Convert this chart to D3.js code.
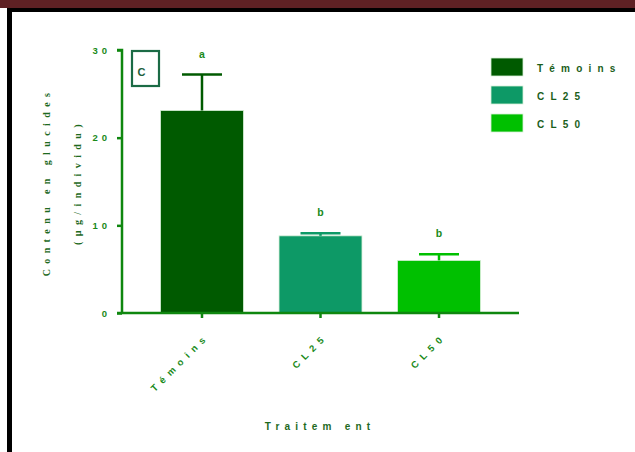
<!DOCTYPE html>
<html>
<head>
<meta charset="utf-8">
<script src="https://cdn.jsdelivr.net/npm/d3@7"></script>
<style>
  html, body { margin: 0; padding: 0; background: #fff; }
  svg { display: block; }
</style>
</head>
<body>
<svg id="chart" width="635" height="452"></svg>
<script>
// Treatment groups and measured carbohydrate content (µg / individual)
const categories = ["Témoins", "CL25", "CL50"];
const means = [23.1, 8.8, 6.0];
const errors = [4.1, 0.3, 0.7];
const letters = ["a", "b", "b"];
const yTicks = [0, 10, 20, 30];
const barColors = ["#005a00", "#0d9966", "#00c000"];

const svg = d3.select("#chart");
const W = 635, H = 452;

// page frame: dark band on top, black border lines
svg.append("rect").attr("x", 0).attr("y", 0).attr("width", W).attr("height", 8).attr("fill", "#5e2124");
svg.append("rect").attr("x", 7).attr("y", 8).attr("width", W - 7).attr("height", 4).attr("fill", "#000");
svg.append("rect").attr("x", 7).attr("y", 8).attr("width", 5).attr("height", H - 8).attr("fill", "#000");

const axisColor = "#0f870f";
const sans = "Liberation Sans, Arial, sans-serif";
const serif = "Liberation Serif, Times New Roman, serif";
const x = d3.scaleBand().domain(categories).range([122, 519]).paddingInner(0.3).paddingOuter(0.325);
const y = d3.scaleLinear().domain([0, 30]).range([313, 50]);

// bars
svg.selectAll("rect.bar").data(categories).enter().append("rect")
  .attr("class", "bar")
  .attr("x", d => x(d))
  .attr("y", (d, i) => y(means[i]))
  .attr("width", x.bandwidth())
  .attr("height", (d, i) => y(0) - y(means[i]))
  .attr("fill", (d, i) => barColors[i])
  .attr("stroke", "#d8efd8").attr("stroke-width", 0.8);

// error bars (upper only) with significance letters
const capW = 40;
categories.forEach((c, i) => {
  const cx = x(c) + x.bandwidth() / 2;
  const top = y(means[i] + errors[i]);
  const g = svg.append("g").attr("stroke", barColors[i]).attr("stroke-width", 2.5);
  g.append("line").attr("x1", cx).attr("x2", cx).attr("y1", y(means[i])).attr("y2", top);
  g.append("line").attr("x1", cx - capW / 2).attr("x2", cx + capW / 2).attr("y1", top).attr("y2", top);
  svg.append("text").attr("x", cx).attr("y", top - 17)
    .attr("text-anchor", "middle").attr("font-family", sans)
    .attr("font-weight", "bold").attr("font-size", 10.5).attr("fill", "#1a8a1a").text(letters[i]);
});

// y axis
const yAxis = svg.append("g").attr("transform", "translate(122,0)")
  .call(d3.axisLeft(y).tickValues(yTicks).tickSize(5).tickPadding(10).tickFormat(d => d));
yAxis.select(".domain").attr("stroke", axisColor).attr("stroke-width", 2.5)
  .attr("d", "M-5," + y(30) + "H0V" + y(0));
yAxis.selectAll(".tick line").attr("stroke", axisColor).attr("stroke-width", 2.5);
yAxis.selectAll(".tick text")
  .attr("font-family", sans).attr("font-weight", "bold")
  .attr("font-size", 9.5).attr("fill", "#1a8a1a").attr("letter-spacing", 4)
  .attr("dx", 4);

// x axis
const xAxis = svg.append("g").attr("transform", "translate(0,313)")
  .call(d3.axisBottom(x).tickSize(5).tickSizeOuter(0).tickFormat(""));
xAxis.select(".domain").attr("stroke", axisColor).attr("stroke-width", 2.5)
  .attr("d", "M117,0H519");
xAxis.selectAll(".tick line").attr("stroke", axisColor).attr("stroke-width", 2.5);

// rotated category labels
categories.forEach(c => {
  const cx = x(c) + x.bandwidth() / 2;
  svg.append("text")
    .attr("transform", `translate(${cx + 8},${337}) rotate(-45)`)
    .attr("text-anchor", "end")
    .attr("font-family", sans).attr("font-weight", "bold")
    .attr("font-size", 9.5).attr("fill", "#1a8a1a").attr("letter-spacing", 5.6)
    .text(c);
});

// axis titles
svg.append("text").attr("x", 320).attr("y", 430).attr("text-anchor", "middle")
  .attr("font-family", sans).attr("font-weight", "bold")
  .attr("font-size", 10).attr("fill", "#1e6a1e").attr("letter-spacing", 5.2)
  .text("Traitem ent");

svg.append("text").attr("transform", "translate(50,182) rotate(-90)").attr("text-anchor", "middle")
  .attr("font-family", serif).attr("font-weight", "bold")
  .attr("font-size", 10).attr("fill", "#1e6a1e").attr("letter-spacing", 5.4)
  .text("Contenu en glucides");
svg.append("text").attr("transform", "translate(81,182) rotate(-90)").attr("text-anchor", "middle")
  .attr("font-family", serif).attr("font-weight", "bold")
  .attr("font-size", 10).attr("fill", "#1e6a1e").attr("letter-spacing", 5.4)
  .text("(µg/individu)");

// panel letter box
svg.append("rect").attr("x", 132).attr("y", 51).attr("width", 27).attr("height", 35)
  .attr("fill", "none").attr("stroke", "#1b6b45").attr("stroke-width", 2.2);
svg.append("text").attr("x", 141.5).attr("y", 76).attr("text-anchor", "middle")
  .attr("font-family", sans).attr("font-weight", "bold")
  .attr("font-size", 11).attr("fill", "#1b5e3b").text("C");

// legend
const legend = svg.append("g").attr("transform", "translate(491,58)");
categories.forEach((c, i) => {
  const g = legend.append("g").attr("transform", `translate(0,${i * 28})`);
  g.append("rect").attr("width", 32).attr("height", 18).attr("fill", barColors[i])
    .attr("stroke", "#d8efd8").attr("stroke-width", 0.8);
  g.append("text").attr("x", 46).attr("y", 13.5).attr("font-family", sans)
    .attr("font-weight", "bold").attr("font-size", 10).attr("fill", "#1a5e1a").attr("letter-spacing", 6.2)
    .text(c);
});
</script>
</body>
</html>
